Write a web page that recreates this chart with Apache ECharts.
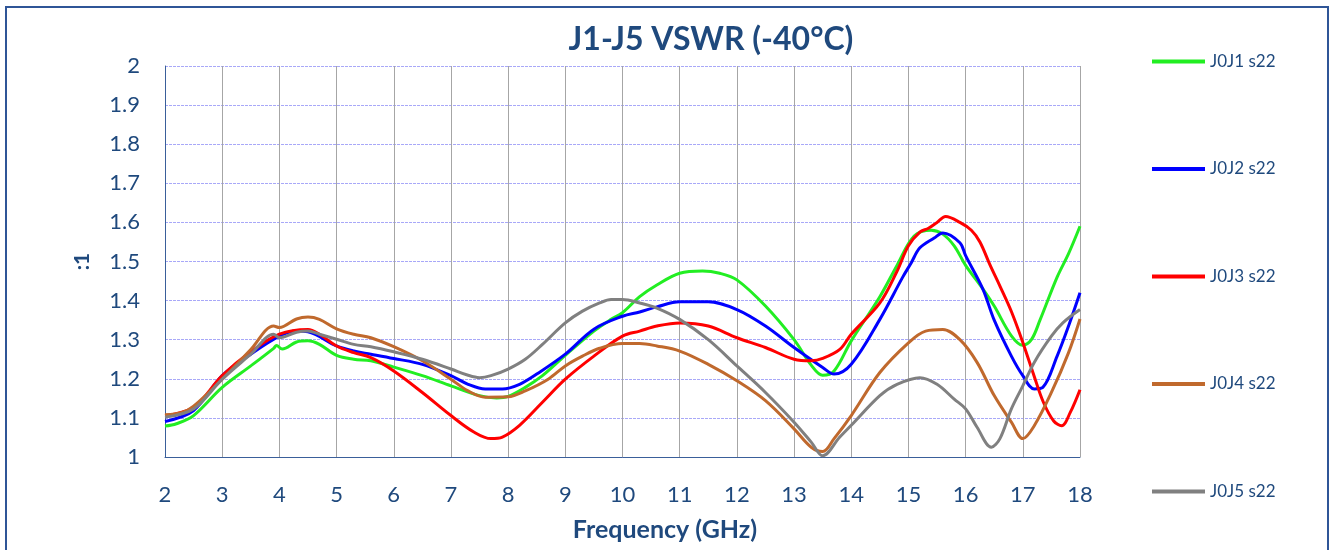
<!DOCTYPE html>
<html>
<head>
<meta charset="utf-8">
<script src="https://cdn.jsdelivr.net/npm/echarts@6/dist/echarts.min.js"></script>
<style>html,body{margin:0;padding:0;background:#fff}#c{width:1331px;height:550px}</style>
</head>
<body>
<div id="c"></div>
<script>
const seriesNames = ['J0J1 s22', 'J0J2 s22', 'J0J3 s22', 'J0J4 s22', 'J0J5 s22'];
const yTicks = [1, 1.1, 1.2, 1.3, 1.4, 1.5, 1.6, 1.7, 1.8, 1.9, 2];
const xTicks = [2, 3, 4, 5, 6, 7, 8, 9, 10, 11, 12, 13, 14, 15, 16, 17, 18];

const j1Freq = [2,2.2,2.5,3,3.5,3.9,3.95,4.05,4.3,4.5,4.7,5,5.3,5.6,6,6.5,7,7.5,7.8,8,8.3,8.6,9,9.5,9.8,10,10.3,10.6,11,11.4,11.7,12,12.5,13,13.3,13.5,13.7,14,14.5,14.8,15.1,15.4,15.6,15.8,16,16.3,16.5,16.8,17,17.15,17.3,17.6,17.8,18];
const j1Vswr = [1.079,1.085,1.106,1.178,1.233,1.278,1.285,1.276,1.294,1.297,1.288,1.26,1.25,1.246,1.23,1.208,1.182,1.157,1.151,1.155,1.178,1.208,1.26,1.322,1.352,1.369,1.41,1.44,1.47,1.476,1.47,1.453,1.386,1.30,1.235,1.209,1.22,1.297,1.41,1.49,1.565,1.58,1.57,1.54,1.49,1.43,1.386,1.31,1.286,1.3,1.35,1.46,1.52,1.59];

const j2Freq = [2,2.5,3,3.5,4,4.3,4.5,5,5.3,5.6,6,6.5,7,7.3,7.6,7.9,8.2,8.5,9,9.5,10,10.3,10.6,11,11.5,12,12.5,13,13.5,13.7,14,14.5,14.9,15.05,15.2,15.45,15.6,15.9,16,16.3,16.5,16.8,17,17.2,17.35,17.6,17.8,18];
const j2Vswr = [1.091,1.119,1.208,1.263,1.309,1.322,1.32,1.284,1.271,1.263,1.252,1.237,1.208,1.186,1.174,1.174,1.186,1.212,1.263,1.327,1.36,1.371,1.384,1.397,1.397,1.377,1.335,1.28,1.229,1.212,1.237,1.352,1.46,1.497,1.535,1.56,1.573,1.548,1.515,1.43,1.35,1.258,1.208,1.174,1.178,1.258,1.335,1.42];

const j3Freq = [2,2.5,3,3.5,4,4.5,4.7,5,5.3,5.6,6,6.5,7,7.4,7.7,7.9,8.2,8.6,9,9.5,10,10.3,10.6,11,11.5,12,12.5,13,13.3,13.5,13.8,14,14.5,14.8,15,15.2,15.35,15.5,15.65,15.9,16.1,16.25,16.43,16.6,16.8,17,17.2,17.36,17.54,17.68,17.83,18];
const j3Vswr = [1.106,1.127,1.208,1.269,1.314,1.326,1.314,1.284,1.267,1.254,1.22,1.165,1.106,1.064,1.047,1.051,1.081,1.14,1.199,1.258,1.309,1.322,1.335,1.343,1.335,1.305,1.28,1.25,1.246,1.252,1.275,1.314,1.394,1.475,1.54,1.575,1.585,1.60,1.615,1.60,1.58,1.55,1.49,1.437,1.372,1.293,1.206,1.14,1.092,1.08,1.114,1.172];

const j4Freq = [2,2.3,2.5,3,3.5,3.9,4.0,4.3,4.5,4.7,5,5.3,5.6,6,6.5,7,7.3,7.6,8,8.3,8.7,9,9.3,9.6,10,10.3,10.6,11,11.5,12,12.5,13,13.3,13.5,13.7,14,14.5,15,15.3,15.6,15.9,16.2,16.5,16.8,17,17.2,17.5,17.8,18];
const j4Vswr = [1.108,1.114,1.13,1.199,1.275,1.335,1.331,1.353,1.358,1.352,1.328,1.314,1.305,1.282,1.246,1.199,1.169,1.153,1.154,1.169,1.199,1.233,1.258,1.278,1.29,1.29,1.284,1.271,1.237,1.195,1.144,1.072,1.025,1.014,1.047,1.106,1.216,1.292,1.322,1.326,1.30,1.242,1.157,1.089,1.047,1.08,1.165,1.267,1.353];

const j5Freq = [2,2.5,3,3.5,3.9,4.0,4.3,4.5,4.7,5,5.3,5.6,6,6.5,7,7.3,7.5,7.7,8,8.3,8.6,9,9.3,9.6,9.8,10,10.3,10.6,11,11.5,12,12.5,13,13.3,13.5,13.8,14,14.5,14.8,15.2,15.5,15.8,16,16.2,16.45,16.6,16.8,17,17.2,17.5,17.7,18];
const j5Vswr = [1.102,1.123,1.199,1.263,1.314,1.305,1.319,1.322,1.314,1.301,1.288,1.282,1.269,1.25,1.225,1.209,1.203,1.208,1.225,1.25,1.288,1.343,1.373,1.394,1.403,1.403,1.394,1.381,1.352,1.30,1.233,1.165,1.089,1.038,1.003,1.051,1.081,1.157,1.186,1.203,1.186,1.148,1.123,1.076,1.025,1.047,1.123,1.182,1.242,1.309,1.343,1.377];

const freqs = [j1Freq, j2Freq, j3Freq, j4Freq, j5Freq];
const vswrs = [j1Vswr, j2Vswr, j3Vswr, j4Vswr, j5Vswr];
const colors = ['#22EE22', '#0000FF', '#FF0000', '#C0692D', '#808080'];
const txt = '#1F497D';
const font = 'Lato, "Open Sans", sans-serif';

const chart = echarts.init(document.getElementById('c'), null, {renderer: 'canvas'});
chart.setOption({
  animation: false,
  backgroundColor: '#fff',
  title: {
    text: 'J1-J5 VSWR (-40°C)',
    left: 706, top: 19, textAlign: 'center',
    textStyle: {color: txt, fontSize: 32, fontWeight: 'bold', fontFamily: font}
  },
  graphic: [{
    type: 'rect', shape: {x: 6, y: 7, width: 1322, height: 560},
    style: {fill: 'none', stroke: '#2F5597', lineWidth: 2}, silent: true
  }],
  legend: {
    orient: 'vertical', left: 1152, top: 53, padding: 0,
    icon: 'rect', itemWidth: 53, itemHeight: 4, itemGap: 90.5,
    textStyle: {color: txt, fontSize: 17, fontFamily: font},
    data: seriesNames
  },
  grid: {left: 165, right: 251, top: 66, bottom: 93, outerBoundsMode: 'none', containLabel: false},
  xAxis: {
    type: 'value', min: 2, max: 18, interval: 1,
    name: 'Frequency (GHz)', nameLocation: 'middle', nameGap: 60,
    nameTextStyle: {color: txt, fontSize: 25, fontWeight: 'bold', fontFamily: font, padding: [0, 0, 0, 85]},
    axisLine: {show: true, onZero: false, lineStyle: {color: '#3A5F9A', width: 1}},
    axisTick: {show: false},
    axisLabel: {color: txt, fontSize: 22, margin: 27, fontFamily: font,
      formatter: v => xTicks.includes(v) ? String(v) : ''},
    splitLine: {show: true, lineStyle: {color: '#A6A6A6', width: 1}}
  },
  yAxis: {
    type: 'value', min: 1, max: 2, interval: 0.1,
    name: ':1', nameLocation: 'middle', nameGap: 72,
    nameTextStyle: {color: txt, fontSize: 21, fontWeight: 'bold', fontFamily: font},
    axisLine: {show: true, lineStyle: {color: '#3A5F9A', width: 1}},
    axisTick: {show: false},
    axisLabel: {color: txt, fontSize: 22, margin: 25, fontFamily: font,
      formatter: v => String(parseFloat(v.toFixed(1)))},
    splitLine: {show: true, lineStyle: {color: '#A8A8F8', width: 1, type: [3, 1]}}
  },
  series: seriesNames.map((n, i) => ({
    name: n, type: 'line', symbol: 'none', smooth: 0.35,
    lineStyle: {color: colors[i], width: 3},
    itemStyle: {color: colors[i]},
    data: freqs[i].map((f, k) => [f, vswrs[i][k]])
  }))
});
</script>
</body>
</html>
